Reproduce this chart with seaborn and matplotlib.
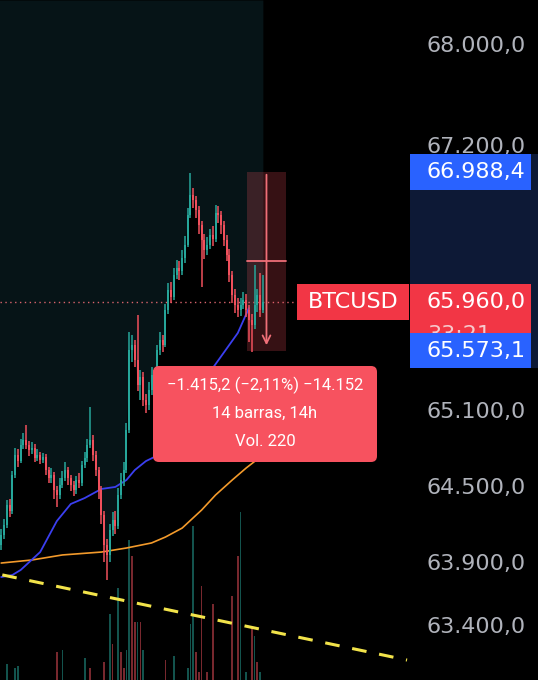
import numpy as np
import matplotlib
matplotlib.use('Agg')
import matplotlib.pyplot as plt
import seaborn as sns
from matplotlib.patches import Rectangle, FancyBboxPatch
from matplotlib.transforms import blended_transform_factory

# --- data (BTCUSD, 1h candles) ---
first_open = 64030
closes = [64110, 64190, 64350, 64300, 64585, 64745, 64700, 64825, 64865, 64825,
          64785, 64800, 64720, 64745, 64705, 64730, 64625, 64560, 64590, 64465,
          64430, 64505, 64560, 64625, 64560, 64505, 64465, 64545, 64520, 64665,
          64720, 64825, 64865, 64745, 64625, 64465, 64270, 64030, 63950, 64150,
          64230, 64180, 64430, 64545, 64625, 64945, 65575, 65615, 65500, 65300,
          65360, 65180, 65140, 65260, 65380, 65330, 65575, 65655, 65620, 65895,
          66050, 66000, 66170, 66225, 66200, 66305, 66410, 66645, 66805, 66765,
          66685, 66565, 66450, 66370, 66410, 66490, 66460, 66665, 66645, 66565,
          66450, 66330, 66170, 66015, 65935, 65895, 65935, 65975, 65895, 65815,
          65775, 65935, 66015, 65895, 65960]
highs = [64160, 64240, 64390, 64400, 64620, 64800, 64790, 64870, 64920, 64980,
         64860, 64850, 64830, 64790, 64770, 64760, 64750, 64650, 64640, 64610,
         64500, 64560, 64620, 64690, 64650, 64590, 64540, 64580, 64600, 64700,
         64770, 64870, 65125, 64900, 64780, 64650, 64500, 64300, 64080, 64200,
         64290, 64300, 64480, 64600, 64690, 65000, 65720, 65700, 65660, 65855,
         65420, 65400, 65230, 65320, 65440, 65420, 65620, 65720, 65700, 65940,
         66110, 66120, 66230, 66290, 66280, 66370, 66480, 66700, 66980, 66860,
         66800, 66720, 66600, 66500, 66470, 66540, 66560, 66730, 66720, 66680,
         66600, 66490, 66380, 66200, 66060, 65990, 65990, 66040, 66020, 65930,
         65860, 66250, 66060, 66190, 66170]
lows = [63990, 64080, 64170, 64250, 64280, 64560, 64650, 64680, 64790, 64790,
        64740, 64750, 64690, 64700, 64670, 64680, 64590, 64520, 64520, 64400,
        64330, 64400, 64480, 64540, 64510, 64460, 64420, 64440, 64480, 64500,
        64640, 64690, 64800, 64700, 64580, 64400, 64200, 63900, 63755, 63900,
        64100, 64120, 64160, 64400, 64500, 64600, 64920, 65480, 65440, 65250,
        65180, 65130, 65080, 65100, 65220, 65270, 65300, 65540, 65560, 65600,
        65860, 65950, 65970, 66140, 66130, 66170, 66270, 66390, 66620, 66700,
        66620, 66500, 66075, 66300, 66330, 66380, 66400, 66430, 66580, 66500,
        66400, 66280, 66120, 65950, 65870, 65840, 65850, 65900, 65840, 65640,
        65560, 65740, 65880, 65840, 65870]
opens = [first_open] + closes[:-1]

# moving averages (sampled along the bars)
ma_fast_idx = [0, 4, 7, 14, 20, 25, 30, 36, 41, 45, 48, 52, 55, 61, 68, 73, 76, 85, 89]
ma_fast = [63778, 63794, 63834, 63976, 64222, 64357, 64404, 64476, 64492, 64547,
           64626, 64697, 64729, 64864, 65101, 65276, 65434, 65712, 65910]
ma_slow_idx = [0, 11, 22, 36, 45, 54, 59, 65, 72, 77, 83, 88, 94]
ma_slow = [63889, 63913, 63953, 63976, 64008, 64048, 64095, 64166, 64309, 64428,
           64547, 64642, 64745]

# volume bars
vol_idx = [2, 5, 6, 20, 22, 30, 32, 37, 39, 40, 42, 43, 44, 45, 46, 47, 48, 49, 50, 51,
           59, 62, 67, 68, 69, 70, 71, 72, 74, 76, 83, 85, 86, 88, 90, 91, 92, 93]
vol_val = [8, 6, 7, 14, 15, 11, 6, 9, 33, 18, 46, 14, 6, 15, 70, 62, 29, 29, 29, 15,
           10, 12, 6, 28, 77, 14, 4, 47, 4, 38, 42, 62, 84, 4, 26, 22, 9, 4]
vol_up = [1, 1, 1, 0, 1, 1, 0, 0, 1, 0, 1, 0, 0, 1, 1, 0, 0, 1, 0, 1,
          0, 1, 1, 1, 1, 0, 0, 0, 0, 0, 0, 0, 1, 1, 0, 1, 0, 1]

# trendline, ticks, measurement tool
trend_x = [0.4, 145.8]
trend_y = [63795, 63120]
price_ticks = [68000, 67200, 66400, 65100, 64500, 63900, 63400]
last_price = 65960.0
range_hi = 66988.4
range_lo = 65573.1
range_start, range_bars = 88.3, 14

UP = '#26a69a'
DOWN = '#f0505c'
XLIM = (-0.43, 146.86)
YLIM = (62962, 68351)
FS = 16


def fmt(v):
    return f'{v:,.1f}'.replace(',', 'X').replace('.', ',').replace('X', '.')


sns.set_theme(style='dark')
plt.rcParams['font.family'] = ['DejaVu Sans']

fig = plt.figure(figsize=(5.38, 6.8), dpi=100, facecolor='black')
rect = [0, 0, 410 / 538, 1]

# volume pane underneath
axv = fig.add_axes(rect)
axv.set_facecolor('black')
vcols = [UP if u else DOWN for u in vol_up]
axv.bar(vol_idx, vol_val, width=0.6, color=vcols, alpha=0.5, linewidth=0)
axv.set_xlim(*XLIM)
axv.set_ylim(0, 340)
axv.axis('off')

# price pane
ax = fig.add_axes(rect)
ax.patch.set_visible(False)
ax.set_xlim(*XLIM)
ax.set_ylim(*YLIM)
for s in ax.spines.values():
    s.set_visible(False)
ax.grid(False)

idx = np.arange(len(closes))
# session background above price
ax.fill_between(np.r_[-1, idx], np.r_[closes[0], closes], YLIM[1], color='#061417', lw=0, zorder=0)

# last price dotted line
ax.axhline(last_price, xmin=0, xmax=298 / 410, color='#d9646c', lw=1, ls=(0, (1, 2.5)), zorder=1)

# date/price range box
ax.add_patch(Rectangle((range_start, range_lo), range_bars, range_hi - range_lo,
                       facecolor='#f7525f', alpha=0.22, lw=0, zorder=1))
mid_x = range_start + range_bars / 2
ax.plot([range_start, range_start + range_bars], [(range_hi + range_lo) / 2] * 2, color='#ef6f78', lw=1.3, zorder=1)
ax.annotate('', xy=(mid_x, range_lo + 20), xytext=(mid_x, range_hi),
            arrowprops=dict(arrowstyle='->', color='#ef6f78', lw=1.3, mutation_scale=14), zorder=1)

# moving averages
sns.lineplot(x=ma_slow_idx, y=ma_slow, ax=ax, color='#f39a2b', lw=1.2, sort=False, zorder=2)
sns.lineplot(x=ma_fast_idx, y=ma_fast, ax=ax, color='#3b3ff0', lw=1.3, sort=False, zorder=2)

# candles
ccols = [UP if c >= o else DOWN for o, c in zip(opens, closes)]
ax.vlines(idx, lows, highs, colors=ccols, lw=1.1, zorder=3)
body_lo = np.minimum(opens, closes)
body_h = np.maximum(np.abs(np.array(closes) - np.array(opens)), 10)
ax.bar(idx, body_h, bottom=body_lo, width=0.72, color=ccols, lw=0, zorder=3)

# yellow dashed trendline
ax.plot(trend_x, trend_y, color='#f2e34a', lw=2.2, dashes=(4.8, 4.2), zorder=4)

# price scale
ax.yaxis.tick_right()
ax.set_yticks(price_ticks)
ax.set_yticklabels([fmt(v) for v in price_ticks])
ax.tick_params(axis='y', length=0, pad=12, labelsize=FS, labelcolor='#b0b3bb')
ax.set_xticks([])

bt = blended_transform_factory(ax.transAxes, ax.transData)
half = 143
ax.add_patch(Rectangle((1.0, range_lo - 140), 128 / 410, range_hi - range_lo + 283,
                       transform=bt, facecolor='#0d1936', lw=0, clip_on=False, zorder=2))
# red last-price label
red_lbl = Rectangle((1.0, 65696), 121 / 410, last_price + half - 65696,
                    transform=bt, facecolor='#f23645', lw=0, clip_on=False, zorder=5)
ax.add_patch(red_lbl)
ax.text(427 / 410, last_price, fmt(last_price), transform=bt, color='white', fontsize=FS,
        ha='left', va='center', zorder=6, clip_on=False)
# countdown, mostly hidden under the blue label
cd_clip = Rectangle((1.0, range_lo + 140), 121 / 410, 200, transform=bt, visible=False)
ax.add_patch(cd_clip)
cd = ax.text(427 / 410, 65698, '33:21', transform=bt, color='#f7c9cc', fontsize=FS,
             ha='left', va='center', zorder=6)
cd.set_clip_path(cd_clip)
# blue range labels
for p in (range_hi, range_lo):
    h = half if p == range_hi else 140
    ax.add_patch(Rectangle((1.0, p - h), 121 / 410, 2 * h, transform=bt,
                           facecolor='#2962ff', lw=0, clip_on=False, zorder=7))
    ax.text(427 / 410, p, fmt(p), transform=bt, color='white', fontsize=FS,
            ha='left', va='center', zorder=8, clip_on=False)
# symbol label
ax.add_patch(Rectangle((297 / 410, last_price - half), 112 / 410, 2 * half, transform=bt,
                       facecolor='#f23645', lw=0, clip_on=False, zorder=5))
ax.text(353 / 410, last_price, 'BTCUSD', transform=bt, color='white', fontsize=FS,
        ha='center', va='center', zorder=6)

# measurement tooltip
tip = FancyBboxPatch((153 / 538, (680 - 462) / 680), 224 / 538, 96 / 680,
                     boxstyle='round,pad=0,rounding_size=0.011', mutation_aspect=538 / 680,
                     transform=fig.transFigure, facecolor='#f7525f', lw=0, zorder=10)
fig.patches.append(tip)
tip_lines = ['\u22121.415,2 (\u22122,11%) \u221214.152', '14 barras, 14h', 'Vol. 220']
for k, line in enumerate(tip_lines):
    fig.text(265 / 538, (680 - (385 + 28 * k)) / 680, line, color='white', fontsize=12,
             family=['Roboto', 'DejaVu Sans'], ha='center', va='center', zorder=11)

fig.savefig('out.png', dpi=100, facecolor='black')
